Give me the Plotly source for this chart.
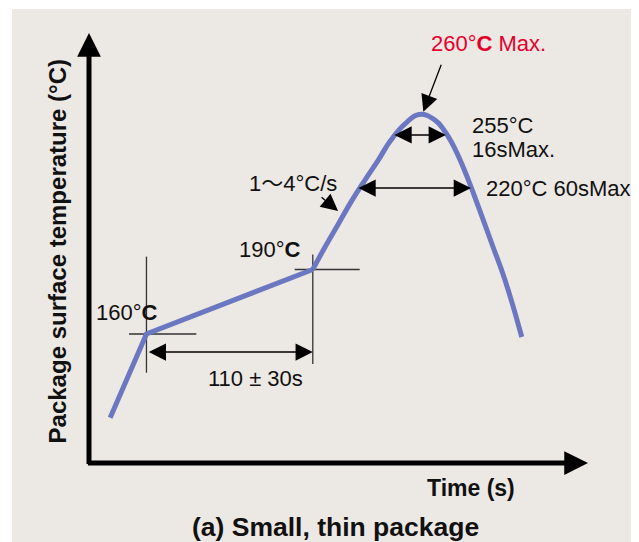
import plotly.graph_objects as go

# ---------------- data (time in s, temperature in degC) ----------------
preheat_time = [14, 38, 148]
preheat_temp = [121, 160, 190]

reflow_time = [148, 156.1, 164.9, 173.7, 182.5, 191.3, 199.7, 209.0, 218.3, 228.8, 235.4,
               242.1, 250.9, 257.5, 266.3, 275.1, 286.2]
reflow_temp = [190, 200.5, 211.2, 221.9, 231.6, 240.9, 250.2, 257.7, 262.1, 259.5, 254.2,
               246.0, 231.6, 219.2, 202.2, 185.1, 158.6]

# guide lines at 160 and 190 degC
guide160_v_time = [38, 38]
guide160_v_temp = [142, 196]
guide160_h_time = [26.5, 71]
guide160_h_temp = [160, 160]
guide190_v_time = [148, 148]
guide190_v_temp = [146, 197]
guide190_h_time = [136, 179]
guide190_h_temp = [190, 190]

# dimension arrows: (t_start, t_end, temp)
soak_arrow = (38.5, 148, 151.6)
peak_dwell_arrow = (201, 236, 252.6)
above220_arrow = (177.2, 252.6, 227.9)
# pointer arrows: (tail_t, tail_T, head_t, head_T)
peak_pointer = (233.3, 285.9, 221.1, 263.4)
slope_pointer = (152.8, 224.2, 164.7, 217.2)

# axis ranges
time_range = [0, 330]
temp_range = [100, 300]

# text labels: (text, t, T, xanchor, color)
labels = [
    ("160°<b>C</b>", 25.1, 170.2, "center", "#111111"),
    ("190°<b>C</b>", 119.7, 199.1, "center", "#111111"),
    ("1～4°C/s", 134.6, 230.2, "center", "#111111"),
    ("260°<b>C</b> Max.", 264.2, 295.3, "center", "#E4002B"),
    ("255°C", 252.0, 257.2, "left", "#111111"),
    ("16sMax.", 252.0, 245.6, "left", "#111111"),
    ("220°C 60sMax.", 261.2, 227.9, "left", "#111111"),
    ("110 ± 30s", 110.4, 139.1, "center", "#111111"),
]

FONT = "Liberation Sans, Arial, Helvetica, Noto Sans CJK JP, sans-serif"
CURVE = "#6B77C1"
BG = "#ECE8E4"

fig = go.Figure()

for gx, gy in [(guide160_v_time, guide160_v_temp), (guide160_h_time, guide160_h_temp),
               (guide190_v_time, guide190_v_temp), (guide190_h_time, guide190_h_temp)]:
    fig.add_trace(go.Scatter(x=gx, y=gy, mode="lines",
                             line=dict(color="#333333", width=1.3),
                             hoverinfo="skip", showlegend=False, cliponaxis=False))

fig.add_trace(go.Scatter(x=preheat_time, y=preheat_temp, mode="lines",
                         line=dict(color=CURVE, width=5), showlegend=False, cliponaxis=False))
fig.add_trace(go.Scatter(x=reflow_time, y=reflow_temp, mode="lines",
                         line=dict(color=CURVE, width=5, shape="spline", smoothing=1.3),
                         showlegend=False, cliponaxis=False))

ann = []
# axes with arrow heads
ann.append(dict(x=time_range[1], y=temp_range[0], ax=-1.7, ay=temp_range[0],
                xref="x", yref="y", axref="x", ayref="y", text="", showarrow=True,
                arrowhead=2, arrowsize=0.95, arrowwidth=5, arrowcolor="#000000"))
ann.append(dict(x=0, y=temp_range[1], ax=0, ay=98.8,
                xref="x", yref="y", axref="x", ayref="y", text="", showarrow=True,
                arrowhead=2, arrowsize=0.95, arrowwidth=5, arrowcolor="#000000"))

# double-headed dimension arrows
for t0, t1, T in [soak_arrow, peak_dwell_arrow, above220_arrow]:
    ann.append(dict(x=t1, y=T, ax=t0, ay=T, xref="x", yref="y", axref="x", ayref="y",
                    text="", showarrow=True, arrowhead=2, startarrowhead=2,
                    arrowside="end+start", arrowsize=2.3, startarrowsize=2.3,
                    arrowwidth=1.5, arrowcolor="#000000"))
# pointer arrows
for tt, tT, ht, hT in [peak_pointer, slope_pointer]:
    ann.append(dict(x=ht, y=hT, ax=tt, ay=tT, xref="x", yref="y", axref="x", ayref="y",
                    text="", showarrow=True, arrowhead=2, arrowsize=2.6,
                    arrowwidth=1.3, arrowcolor="#000000"))

for txt, t, T, xa, col in labels:
    ann.append(dict(x=t, y=T, xref="x", yref="y", text=txt, showarrow=False,
                    xanchor=xa, yanchor="middle", font=dict(family=FONT, size=22, color=col)))

# titles
ann.append(dict(x=0.766, y=-0.058, xref="paper", yref="paper", text="<b>Time (s)</b>",
                showarrow=False, xanchor="center", yanchor="middle",
                font=dict(family=FONT, size=23, color="#111111")))
ann.append(dict(x=-0.063, y=0.491, xref="paper", yref="paper",
                text="<b>Package surface temperature (°C)</b>", textangle=-90,
                showarrow=False, xanchor="center", yanchor="middle",
                font=dict(family=FONT, size=24, color="#111111")))
ann.append(dict(x=0.493, y=-0.149, xref="paper", yref="paper",
                text="<b>(a) Small, thin package</b>",
                showarrow=False, xanchor="center", yanchor="middle",
                font=dict(family=FONT, size=26.5, color="#111111")))

# page body has an 8px default margin, so the figure is 8px smaller than the window
fig.update_layout(
    width=631, height=534,
    margin=dict(l=81, r=51, t=25, b=79),
    paper_bgcolor="#FFFFFF",
    plot_bgcolor="rgba(0,0,0,0)",
    showlegend=False,
    annotations=ann,
    shapes=[dict(type="rect", xref="paper", yref="paper",
                 x0=-0.1543, x1=1.2, y0=-0.2, y1=1.0558,
                 fillcolor=BG, line=dict(width=0), layer="below")],
    xaxis=dict(range=time_range, showgrid=False, zeroline=False, showticklabels=False,
               ticks="", showline=False, fixedrange=True),
    yaxis=dict(range=temp_range, showgrid=False, zeroline=False, showticklabels=False,
               ticks="", showline=False, fixedrange=True),
)

fig.write_html("out.html")
